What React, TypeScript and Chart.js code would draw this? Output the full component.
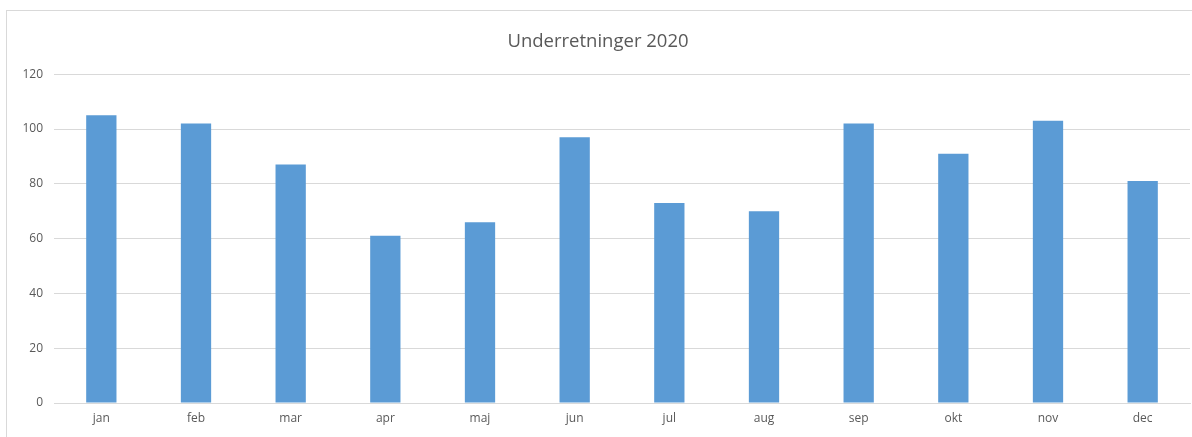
import React, { useEffect, useRef } from "react";
import { Chart, registerables } from "chart.js";

Chart.register(...registerables);

const categories = ["jan", "feb", "mar", "apr", "maj", "jun", "jul", "aug", "sep", "okt", "nov", "dec"];
const values = [105, 102, 87, 61, 66, 97, 73, 70, 102, 91, 103, 81];
const titleText = "Underretninger 2020";

export default function App() {
  const ref = useRef<HTMLCanvasElement | null>(null);

  useEffect(() => {
    document.body.style.margin = "0";
    if (!ref.current) return;
    const chart = new Chart(ref.current, {
      type: "bar",
      data: {
        labels: categories,
        datasets: [
          {
            data: values,
            backgroundColor: "#5B9BD5",
            borderWidth: 0,
            categoryPercentage: 1,
            barPercentage: 0.32,
          },
        ],
      },
      options: {
        animation: false,
        responsive: false,
        maintainAspectRatio: false,
        layout: { padding: { left: 0, right: 6, top: 0, bottom: 0 } },
        plugins: {
          legend: { display: false },
          tooltip: { enabled: false },
          title: {
            display: true,
            text: titleText,
            color: "#595959",
            font: { family: "'Open Sans', sans-serif", size: 18.5, weight: "normal" },
            padding: { top: 21, bottom: 21 },
          },
        },
        scales: {
          x: {
            grid: { display: false, drawTicks: false },
            border: { display: true, color: "#d9d9d9" },
            ticks: {
              color: "#595959",
              font: { family: "'Open Sans', sans-serif", size: 12 },
              padding: 8,
              maxRotation: 0,
            },
            afterFit: (s: any) => {
              s.height = 34;
            },
          },
          y: {
            min: 0,
            max: 120,
            grid: { color: "#d9d9d9", drawTicks: false },
            border: { display: false },
            ticks: {
              stepSize: 20,
              color: "#595959",
              font: { family: "'Open Sans', sans-serif", size: 12 },
              padding: 11,
            },
            afterFit: (s: any) => {
              s.width = 48;
            },
          },
        },
      },
    });
    return () => chart.destroy();
  }, []);

  return (
    <div style={{ position: "fixed", left: 0, top: 0, width: 1192, height: 437, overflow: "hidden", background: "#fff" }}>
      <div
        style={{
          position: "absolute",
          left: 6,
          top: 10,
          width: 1200,
          height: 440,
          border: "1px solid #d9d9d9",
          boxSizing: "border-box",
        }}
      />
      <canvas ref={ref} width={1190} height={427} style={{ position: "absolute", left: 6, top: 10 }} />
    </div>
  );
}
